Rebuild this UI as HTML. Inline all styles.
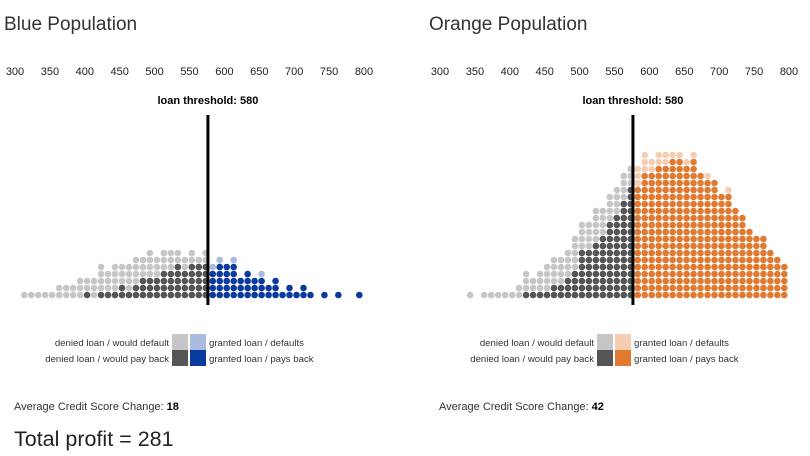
<!DOCTYPE html>
<html><head><meta charset="utf-8"><style>
body{margin:0;background:#fff;width:810px;height:456px;overflow:hidden;font-family:"Liberation Sans",sans-serif}
svg{display:block}
</style></head><body>
<svg id="chart" width="810" height="456" xmlns="http://www.w3.org/2000/svg" font-family="Liberation Sans, sans-serif">
<text x="4" y="30" font-size="19" fill="#333">Blue Population</text>
<text x="429" y="30" font-size="19" fill="#333">Orange Population</text>
<text x="14" y="410" font-size="11" fill="#333">Average Credit Score Change: <tspan font-weight="bold" fill="#000">18</tspan></text>
<text x="439" y="410" font-size="11" fill="#333">Average Credit Score Change: <tspan font-weight="bold" fill="#000">42</tspan></text>
<text x="14" y="446" font-size="21.5" fill="#222">Total profit = 281</text>
</svg>
<script>
const ticks=[300,350,400,450,500,550,600,650,700,750,800];
const threshold=580;
const binStart=310, binWidth=10;
// per-column counts (column k covers score 310+10k)
const blueDeniedPay=[0,0,0,0,0,0,0,0,0,1,0,1,1,1,2,1,2,3,3,3,4,4,5,4,5,5,5];
const blueDeniedDefault=[1,1,1,1,1,2,2,2,3,2,3,4,3,4,3,4,4,3,4,3,3,3,2,2,2,1,2];
const blueGrantedPay=[4,5,5,5,3,4,3,3,2,3,1,2,1,2,1,0,1,0,1,0,0,1];
const blueGrantedDefault=[1,1,0,1,0,0,0,1,0,0,0,0,0,0,0,0,0,0,0,0,0,0];
const orangeDeniedPay=[0,0,0,0,0,0,0,0,0,0,0,1,1,1,1,2,2,3,4,7,7,8,9,11,12,14,16];
const orangeDeniedDefault=[0,0,0,1,0,1,1,1,1,1,2,3,2,3,4,4,4,4,5,4,4,5,4,4,4,4,3];
const orangeGrantedPay=[16,18,18,19,19,20,20,19,20,18,17,17,15,15,13,12,10,9,9,7,6,5];
const orangeGrantedDefault=[3,3,2,2,2,1,1,1,1,0,1,0,0,1,0,0,0,0,0,0,0,0];

const NS="http://www.w3.org/2000/svg";
const svg=document.getElementById('chart');
function mk(tag,attrs){const e=document.createElementNS(NS,tag);for(const k in attrs)e.setAttribute(k,attrs[k]);svg.appendChild(e);return e;}
const baseY=295, step=7;
function drawPanel(ox,name,cols){
  const xs=s=>ox+15+(s-300)*0.698;
  ticks.forEach(t=>{
    const e=mk('text',{x:xs(t),y:75,'font-size':11,'text-anchor':'middle',fill:'#222'});
    e.textContent=t;
    
    
  });
  const nDenied=cols.dp.length;
  function col(k,stack){
    const x=xs(binStart+binWidth*k)+2.3;let r=0;
    stack.forEach(([n,c,nm])=>{for(let i=0;i<n;i++){
      const d=mk('circle',{cx:x,cy:baseY-step*r,r:3.3,fill:c});
      
      
      r++;}});
  }
  for(let k=0;k<nDenied;k++)col(k,[[cols.dp[k],'#555555','denied-pay'],[cols.dd[k],'#c6c6c6','denied-default']]);
  for(let j=0;j<cols.gp.length;j++)col(nDenied+j,[[cols.gp[j],cols.cp,'granted-pay'],[cols.gd[j],cols.cd,'granted-default']]);
  const lx=xs(threshold)-2.5;
  const ln=mk('line',{x1:lx,x2:lx,y1:115,y2:305,stroke:'#000','stroke-width':3});
  
  
  const lt=mk('text',{x:lx,y:104,'font-size':11,'font-weight':'bold','text-anchor':'middle',fill:'#000'});
  lt.textContent='loan threshold: '+threshold;
  
  
  // legend
  const L=[['denied loan / would default','#c6c6c6',172,334,'end'],['denied loan / would pay back','#555555',172,350,'end'],['granted loan / defaults',cols.cd,190,334,'start'],['granted loan / pays back',cols.cp,190,350,'start']];
  L.forEach(([t,c,x,y,a])=>{
    const r=mk('rect',{x:ox+x,y:y,width:16,height:16,fill:c});
    
    
    const tx=mk('text',{x:a==='end'?ox+x-3:ox+x+19,y:y+12,'font-size':9.6,'text-anchor':a,fill:'#333'});
    tx.textContent=t;
    
    
  });
}
drawPanel(0,'blue',{dp:blueDeniedPay,dd:blueDeniedDefault,gp:blueGrantedPay,gd:blueGrantedDefault,cp:'#0a3a9e',cd:'#aabbe0'});
drawPanel(425,'orange',{dp:orangeDeniedPay,dd:orangeDeniedDefault,gp:orangeGrantedPay,gd:orangeGrantedDefault,cp:'#e07a30',cd:'#f5cdb2'});
</script>
</body></html>
